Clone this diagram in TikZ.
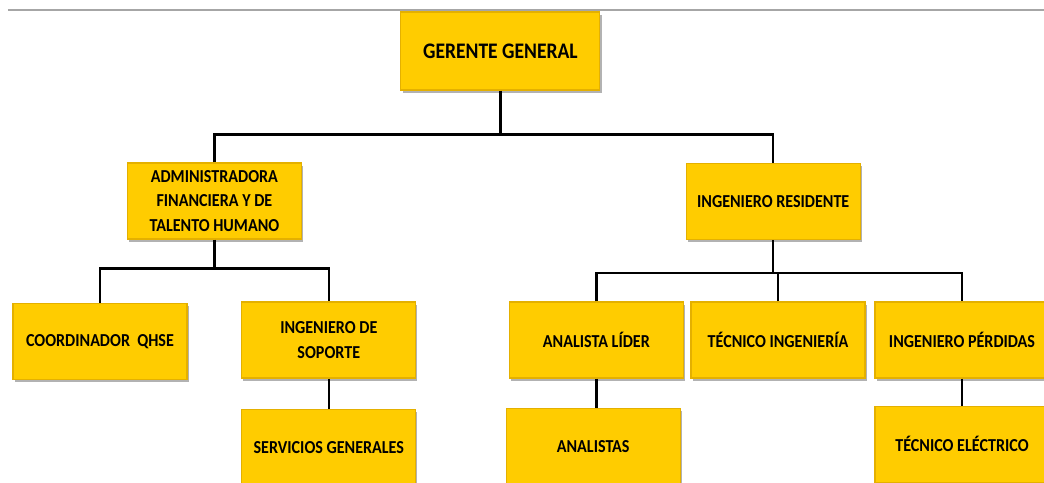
\documentclass[tikz,border=0pt]{standalone}
\usepackage{fontspec}
\setmainfont{Carlito}[FakeStretch=0.88]
\usepackage{xcolor}
\usepackage{tikz}
\usetikzlibrary{positioning,shadows,calc}

\definecolor{boxgold}{RGB}{255,204,0}
\definecolor{boxedge}{RGB}{228,176,0}

\begin{document}
\begin{tikzpicture}[
    post/.style={draw=boxedge, line width=0.8pt, fill=boxgold,
                 minimum width=4.35cm, minimum height=1.9cm,
                 align=center, inner sep=2pt,
                 font=\fontsize{13}{17.5}\selectfont\bfseries,
                 drop shadow={shadow xshift=1.2pt, shadow yshift=-1.8pt,
                              opacity=0.5, fill=black!60}},
    link/.style={line width=1.6pt, black},
    node distance=0.72cm
]
\clip (0,0) rectangle (26.1,-12.075);
\useasboundingbox (0,0) rectangle (26.1,-12.075);

\draw[gray!70, line width=1pt] (0.2,-0.25) -- (26.1,-0.25);

\node[post, minimum width=4.975cm, minimum height=1.95cm,
      font=\fontsize{15.8}{18}\selectfont\bfseries] (gg) at (12.51,-1.275)
                         {GERENTE GENERAL};
\node[post] (adm) at (5.36,-5.025)
                         {ADMINISTRADORA\\
                          FINANCIERA Y DE\\
                          TALENTO HUMANO};
\node[post] (res) at (19.33,-5.04) {INGENIERO RESIDENTE};

\node[post] (qhse) at (2.5,-8.54)  {COORDINADOR\ \ QHSE};
\node[post] (sop)  at (8.22,-8.5)  {INGENIERO DE\\ SOPORTE};
\node[post, below=0.75cm of sop] (serv) {SERVICIOS GENERALES};

\node[post] (lid)  at (14.91,-8.5) {ANALISTA LÍDER};
\node[post] (tec)  at (19.45,-8.5) {TÉCNICO INGENIERÍA};
\node[post] (perd) at (24.05,-8.5) {INGENIERO PÉRDIDAS};
\node[post, below=0.725cm of lid, xshift=-0.08cm] (ana) {ANALISTAS};
\node[post, below=0.675cm of perd] (elec) {TÉCNICO ELÉCTRICO};

\coordinate (bus1) at ($(gg.south)+(0,-1.1)$);
\coordinate (bus2) at ($(adm.south)+(0,-0.725)$);
\coordinate (bus3) at ($(res.south)+(0,-0.825)$);

\draw[link] (gg.south) -- (bus1);
\draw[link] (adm.north) |- (bus1) -| (res.north);
\draw[link] (adm.south) -- (bus2);
\draw[link] (qhse.north) |- (bus2) -| (sop.north);
\draw[link] (sop.south) -- (serv.north);
\draw[link] (res.south) -- (bus3);
\draw[link] (lid.north) |- (bus3) -| (perd.north);
\draw[link] (tec.north) -- (tec.north |- bus3);
\draw[link] (lid.south) -- (lid.south |- ana.north);
\draw[link] (perd.south) -- (elec.north);
\end{tikzpicture}
\end{document}
